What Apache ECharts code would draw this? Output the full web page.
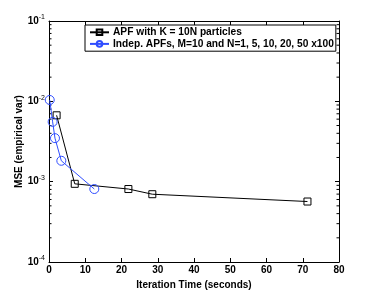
<!DOCTYPE html>
<html><head><meta charset="utf-8">
<script src="https://cdn.jsdelivr.net/npm/echarts@6/dist/echarts.min.js"></script>
<style>html,body{margin:0;padding:0;background:#fff}#c{width:374px;height:295px}</style>
</head><body><div id="c"></div>
<script>
const apfTime = [2.1, 7.1, 21.9, 28.5, 71.3];
const apfMSE = [0.0067, 0.00094, 0.00081, 0.000698, 0.000566];
const indepTime = [0.2, 1.0, 1.65, 3.4, 12.5];
const indepMSE = [0.0104, 0.00555, 0.00348, 0.00182, 0.00081];
const seriesNames = ['APF with K = 10N particles', 'Indep. APFs, M=10 and N=1, 5, 10, 20, 50 x100'];
const xLabel = 'Iteration Time (seconds)';
const yLabel = 'MSE (empirical var)';
const minorVals = [];
for (let e = -4; e < -1; e++) for (let m = 2; m <= 9; m++) minorVals.push(m * Math.pow(10, e));

const F = 'Liberation Sans, Arial, sans-serif';
const BLUE = '#2f4dff';
const chart = echarts.init(document.getElementById('c'));
const tickStyle = {show: true, inside: true, length: 4, lineStyle: {color: '#000', width: 1}};
const lineAx = {onZero: false, lineStyle: {color: '#000', width: 1}};
chart.setOption({
  animation: false,
  grid: {left: 49, right: 35, top: 21, bottom: 33},
  legend: {
    left: 85, top: 25, orient: 'vertical', itemGap: 1, itemWidth: 19, itemHeight: 7,
    padding: [2, 2, 2, 4], borderColor: '#000', borderWidth: 1, backgroundColor: '#fff',
    textStyle: {fontFamily: F, fontWeight: 'bold', fontSize: 10.2, color: '#000', padding: [0,0,0,-1]},
    data: seriesNames
  },
  xAxis: [{
    type: 'value', min: 0, max: 80, interval: 10, position: 'bottom',
    name: xLabel, nameLocation: 'middle', nameGap: 10,
    nameTextStyle: {fontFamily: F, fontWeight: 'bold', fontSize: 10, color: '#000'},
    axisLine: lineAx, axisTick: tickStyle,
    axisLabel: {fontFamily: F, fontWeight: 'bold', fontSize: 10, color: '#000', margin: 3},
    splitLine: {show: false}
  }, {
    type: 'value', min: 0, max: 80, interval: 10, position: 'top',
    axisLine: lineAx, axisTick: tickStyle,
    axisLabel: {show: false}, splitLine: {show: false}
  }],
  yAxis: [{
    type: 'log', logBase: 10, min: 1e-4, max: 1e-1, position: 'left',
    name: yLabel, nameLocation: 'middle', nameGap: 25, nameMoveOverlap: false,
    nameTextStyle: {fontFamily: F, fontWeight: 'bold', fontSize: 10, color: '#000'},
    axisLine: lineAx, axisTick: tickStyle,
    axisLabel: {
      margin: 4,
      formatter: v => '{b|10}{s|' + Math.round(Math.log10(v)) + '}',
      rich: {b: {fontFamily: F, fontWeight: 'bold', fontSize: 10, color: '#000'},
             s: {fontFamily: F, fontSize: 7, color: '#000', verticalAlign: 'bottom', padding: [0,0,7,0]}}
    },
    splitLine: {show: false}
  }, {
    type: 'log', logBase: 10, min: 1e-4, max: 1e-1, position: 'right',
    axisLine: lineAx, axisTick: tickStyle,
    axisLabel: {show: false}, splitLine: {show: false}
  }],
  series: [{
    type: 'custom', silent: true, xAxisIndex: 0, yAxisIndex: 0,
    data: minorVals.map(v => [0, v]),
    renderItem: (params, api) => {
      const p = api.coord([0, api.value(1)]);
      const r = api.coord([80, api.value(1)]);
      return {type: 'group', children: [
        {type: 'line', shape: {x1: p[0], y1: p[1], x2: p[0] + 2.5, y2: p[1]}, style: {stroke: '#000', lineWidth: 1}},
        {type: 'line', shape: {x1: r[0], y1: r[1], x2: r[0] - 2.5, y2: r[1]}, style: {stroke: '#000', lineWidth: 1}}
      ]};
    }
  }, {
    name: seriesNames[0], type: 'line', xAxisIndex: 0, yAxisIndex: 0,
    data: apfTime.map((t, i) => [t, apfMSE[i]]),
    symbol: 'rect', symbolSize: 7,
    lineStyle: {color: '#000', width: 1},
    itemStyle: {color: 'none', borderColor: '#000', borderWidth: 1}
  }, {
    name: seriesNames[1], type: 'line', xAxisIndex: 0, yAxisIndex: 0,
    data: indepTime.map((t, i) => [t, indepMSE[i]]),
    symbol: 'circle', symbolSize: 9,
    lineStyle: {color: BLUE, width: 1},
    itemStyle: {color: 'none', borderColor: BLUE, borderWidth: 1}
  }]
});
</script></body></html>
